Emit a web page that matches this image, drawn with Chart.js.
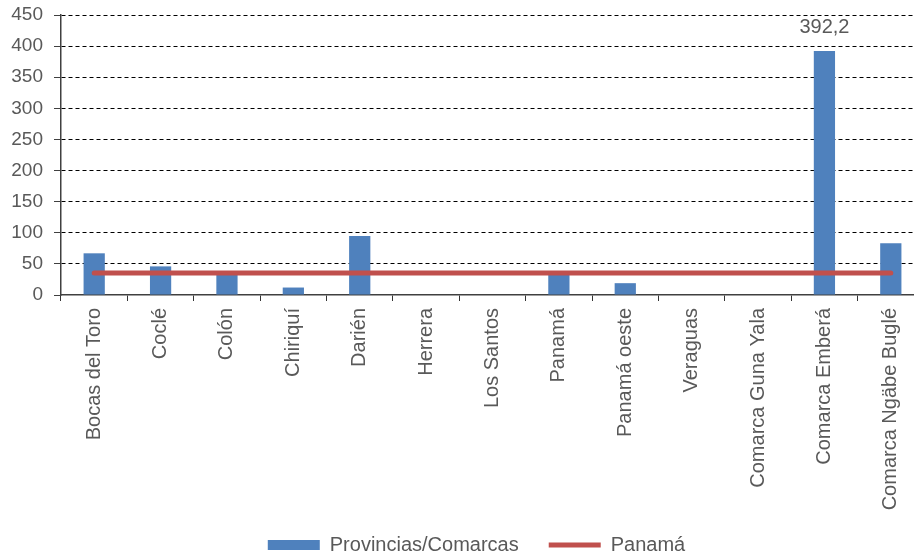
<!DOCTYPE html>
<html>
<head>
<meta charset="utf-8">
<script src="https://cdn.jsdelivr.net/npm/chart.js@4/dist/chart.umd.min.js"></script>
<style>
    html, body { margin: 0; padding: 0; background: #fff; overflow: hidden; }
    #wrap { width: 924px; height: 558px; position: relative; }
</style>
</head>
<body>
<div id="wrap"><canvas id="chart"></canvas></div>
<script>
// Datos del gráfico
const categorias = [
    'Bocas del Toro', 'Coclé', 'Colón', 'Chiriquí', 'Darién', 'Herrera',
    'Los Santos', 'Panamá', 'Panamá oeste', 'Veraguas', 'Comarca Guna Yala',
    'Comarca Emberá', 'Comarca Ngäbe Buglé'
];
const valoresProvincias = [67, 46, 35, 12, 95, 0, 0, 34, 19, 0, 0, 392.2, 83];
const valorPanama = 35.5;
const valoresPanama = categorias.map(() => valorPanama);
const ticksY = [0, 50, 100, 150, 200, 250, 300, 350, 400, 450];
const indiceEtiqueta = 11; // solo se rotula Comarca Emberá

const FUENTE = "'Liberation Sans', Arial, sans-serif";
const TEXTO = '#595959';

// Etiqueta de dato encima de la barra más alta
const etiquetaPlugin = {
    id: 'etiquetaDato',
    afterDatasetsDraw(chart) {
        const bar = chart.getDatasetMeta(1).data[indiceEtiqueta];
        if (!bar) return;
        const ctx = chart.ctx;
        ctx.save();
        ctx.fillStyle = TEXTO;
        ctx.font = '20px ' + FUENTE;
        ctx.textAlign = 'center';
        ctx.textBaseline = 'middle';
        ctx.fillText(String(valoresProvincias[indiceEtiqueta]).replace('.', ','), bar.x, bar.y - 23);
        ctx.restore();
    }
};

// La leyenda va un poco a la derecha y arriba, como en el original
const ajusteLeyenda = {
    id: 'ajusteLeyenda',
    afterLayout(chart) {
        const lg = chart.legend;
        if (!lg) return;
        lg.left += 14.5; lg.right += 14.5;
        lg.top -= 6; lg.bottom -= 6;
    }
};

new Chart(document.getElementById('chart'), {
    data: {
        labels: categorias,
        datasets: [
            {
                type: 'line',
                label: 'Panamá',
                data: valoresPanama,
                borderColor: '#C0504D',
                backgroundColor: '#C0504D',
                borderWidth: 5,
                borderCapStyle: 'round',
                pointRadius: 0,
                fill: false,
                order: 0
            },
            {
                type: 'bar',
                label: 'Provincias/Comarcas',
                data: valoresProvincias,
                backgroundColor: '#4F81BD',
                borderWidth: 0,
                barPercentage: 0.32,
                categoryPercentage: 1,
                order: 1
            }
        ]
    },
    options: {
        responsive: true,
        maintainAspectRatio: false,
        animation: false,
        layout: { padding: { top: 15, right: 0, left: 0, bottom: 0 } },
        plugins: {
            tooltip: { enabled: false },
            legend: {
                position: 'bottom',
                reverse: true,
                maxHeight: 47,
                labels: {
                    color: TEXTO,
                    font: { family: FUENTE, size: 20 },
                    usePointStyle: true,
                    boxHeight: 10,
                    pointStyleWidth: 52,
                    padding: 30,
                    generateLabels(chart) {
                        return chart.data.datasets.map((ds, i) => ({
                            text: ds.label,
                            fillStyle: ds.backgroundColor,
                            strokeStyle: ds.type === 'line' ? ds.borderColor : ds.backgroundColor,
                            lineWidth: ds.type === 'line' ? 5 : 0,
                            pointStyle: ds.type === 'line' ? 'line' : 'rect',
                            fontColor: TEXTO,
                            datasetIndex: i,
                            hidden: false
                        }));
                    }
                }
            }
        },
        scales: {
            x: {
                offset: true,
                grid: {
                    offset: true,
                    drawOnChartArea: false,
                    drawTicks: true,
                    tickLength: 6,
                    color: '#333'
                },
                border: { display: true, color: '#404040', width: 1.5 },
                ticks: {
                    color: TEXTO,
                    font: { family: FUENTE, size: 20 },
                    minRotation: 90,
                    maxRotation: 90,
                    autoSkip: false,
                    padding: 7
                },
                afterFit(scale) { scale.height = 216; }
            },
            y: {
                min: 0,
                max: 450,
                afterBuildTicks(scale) { scale.ticks = ticksY.map(v => ({ value: v })); },
                grid: {
                    color: ctx => ctx.tick && ctx.tick.value === 0 ? 'rgba(0,0,0,0)' : '#000',
                    lineWidth: 1,
                    tickBorderDash: [],
                    tickColor: '#404040',
                    tickLength: 7
                },
                border: { display: true, color: '#404040', width: 1.5, dash: [4, 3] },
                ticks: {
                    color: TEXTO,
                    font: { family: FUENTE, size: 19 },
                    padding: 11
                },
                afterFit(scale) {
                    scale.width = 61;
                    scale.paddingTop = 0;
                    scale.paddingBottom = 0;
                }
            }
        }
    },
    plugins: [etiquetaPlugin, ajusteLeyenda]
});
</script>
</body>
</html>
